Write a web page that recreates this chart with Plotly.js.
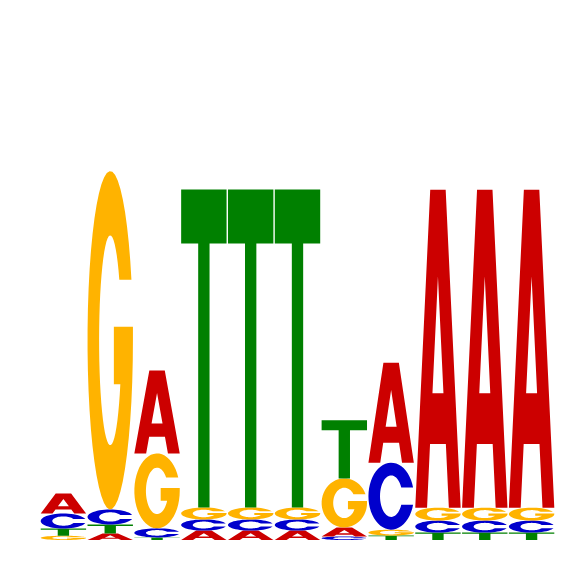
<!DOCTYPE html>
<html>
<head>
<meta charset="utf-8">
<script src="https://cdn.plot.ly/plotly-3.0.1.min.js"></script>
<style>
  html, body { margin: 0; padding: 0; background: #fff; }
  #logo { width: 566px; height: 566px; }
</style>
</head>
<body>
<div id="logo"></div>
<script>
// motif positions and letter heights (bits)
const positions = [1, 2, 3, 4, 5, 6, 7, 8, 9, 10, 11];
const heightA = [0.108, 0.035, 0.449, 0.051, 0.051, 0.051, 0.049, 0.541, 1.719, 1.719, 1.719];
const heightC = [0.081, 0.081, 0.049, 0.060, 0.060, 0.060, 0.019, 0.362, 0.065, 0.065, 0.065];
const heightG = [0.023, 1.830, 0.405, 0.065, 0.065, 0.065, 0.265, 0.032, 0.070, 0.070, 0.070];
const heightT = [0.039, 0.049, 0.014, 1.719, 1.719, 1.719, 0.314, 0.024, 0.040, 0.040, 0.040];

const letters = ['A', 'C', 'G', 'T'];
const heights = {A: heightA, C: heightC, G: heightG, T: heightT};
const colors = {A: '#CC0000', C: '#0000CC', G: '#FFB300', T: '#008000'};

// glyph outlines in a unit box (x 0..1, y 0..1)
function arc(rx, ry, a0, a1, n) {
  const pts = [];
  for (let i = 0; i <= n; i++) {
    const a = (a0 + (a1 - a0) * i / n) * Math.PI / 180;
    pts.push([0.5 + rx * Math.cos(a), 0.5 + ry * Math.sin(a)]);
  }
  return pts;
}

const glyphs = {
  A: [
    [[0, 0], [0.33, 1], [0.67, 1], [1, 0], [0.74, 0], [0.674, 0.2], [0.326, 0.2], [0.26, 0]],
    [[0.379, 0.36], [0.621, 0.36], [0.5, 0.727]]
  ],
  T: [
    [[0, 1], [1, 1], [1, 0.83], [0.625, 0.83], [0.625, 0], [0.375, 0], [0.375, 0.83], [0, 0.83]]
  ],
  C: [
    arc(0.5, 0.5, 15, 345, 48).concat(arc(0.245, 0.31, 335.4, 24.6, 48))
  ],
  G: [
    arc(0.5, 0.5, 21, 360, 48)
      .concat([[1, 0.54], [0.58, 0.54], [0.58, 0.37]])
      .concat(arc(0.245, 0.31, 335.2, 35.3, 48))
  ]
};

const glyphWidth = 0.97;

function glyphPath(letter, xc, y0, h) {
  return glyphs[letter].map(contour =>
    'M' + contour.map(([u, v]) =>
      (xc - glyphWidth / 2 + u * glyphWidth).toFixed(4) + ',' + (y0 + v * h).toFixed(5)
    ).join('L') + 'Z'
  ).join(' ');
}

const shapes = [];
positions.forEach((pos, i) => {
  // smallest letter at the bottom, largest on top
  const order = letters.slice().sort((a, b) => heights[a][i] - heights[b][i]);
  let base = 0;
  order.forEach(l => {
    const h = heights[l][i];
    if (h > 0) {
      shapes.push({
        type: 'path', xref: 'x', yref: 'y',
        path: glyphPath(l, pos, base, h),
        fillcolor: colors[l], fillrule: 'evenodd',
        line: {width: 0}, layer: 'above'
      });
    }
    base += h;
  });
});

const hiddenAxis = {showgrid: false, zeroline: false, showline: false,
  showticklabels: false, ticks: '', fixedrange: true};

Plotly.newPlot('logo', [{
  type: 'scatter', x: positions, y: positions.map(() => 0),
  mode: 'markers', marker: {opacity: 0}, hoverinfo: 'skip', showlegend: false
}], {
  width: 566, height: 566,
  margin: {l: 40, r: 11, t: 0, b: 26},
  paper_bgcolor: '#fff', plot_bgcolor: '#fff',
  xaxis: {...hiddenAxis, range: [0.5, 11.5]},
  yaxis: {...hiddenAxis, range: [0, 2.92]},
  shapes: shapes,
  showlegend: false
}, {staticPlot: true});
</script>
</body>
</html>
